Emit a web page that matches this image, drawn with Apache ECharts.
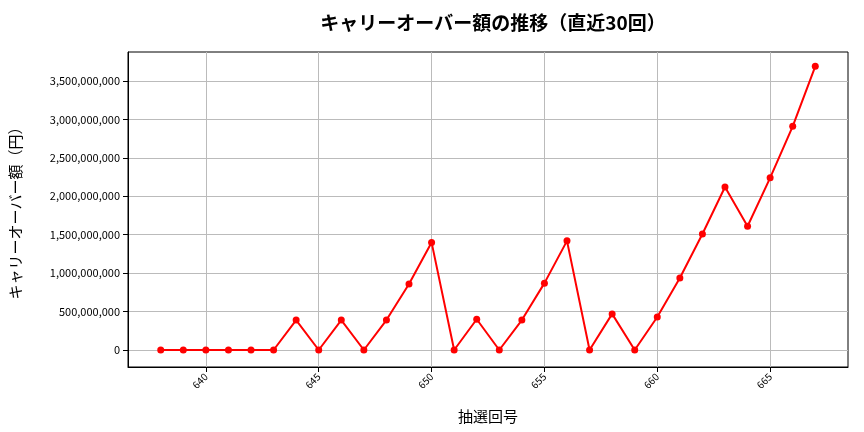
<!DOCTYPE html>
<html><head><meta charset="utf-8">
<script src="https://cdn.jsdelivr.net/npm/echarts@6/dist/echarts.min.js"></script>
<style>html,body{margin:0;padding:0;background:#fff}#c{width:864px;height:432px}</style>
</head><body><div id="c"></div>
<script>
const draws = [638,639,640,641,642,643,644,645,646,647,648,649,650,651,652,653,654,655,656,657,658,659,660,661,662,663,664,665,666,667];
const carryover = [0,0,0,0,0,0,390000000,0,390000000,0,390000000,860000000,1400000000,0,400000000,0,390000000,870000000,1420000000,0,470000000,0,430000000,936000000,1510000000,2120000000,1610000000,2240000000,2910000000,3690000000];
const xTicks = [640,645,650,655,660,665];
const yTicks = [0,500000000,1000000000,1500000000,2000000000,2500000000,3000000000,3500000000];
const font = '"Noto Sans CJK JP", "Noto Sans", sans-serif';
const chart = echarts.init(document.getElementById('c'));
chart.setOption({
  animation:false,
  title:{text:'キャリーオーバー額の推移（直近30回）',left:488,textAlign:'center',top:8,textStyle:{fontFamily:font,fontSize:19,fontWeight:'bold',color:'#000'}},
  grid:{left:128,right:16,top:52,bottom:65,show:true,borderColor:'#000',borderWidth:1},
  xAxis:{type:'value',min:636.55,max:668.45,name:'抽選回号',nameLocation:'middle',nameGap:42,
    nameTextStyle:{fontFamily:font,fontSize:15,color:'#000'},
    axisLine:{show:true,onZero:false,lineStyle:{color:'#000'}},
    axisTick:{show:true,customValues:xTicks,lineStyle:{color:'#000'}},
    axisLabel:{customValues:xTicks,rotate:45,fontSize:10,color:'#000',fontFamily:font},
    splitLine:{show:true,lineStyle:{color:'#bbb'}}},
  yAxis:{type:'value',min:-221000000,max:3877000000,name:'キャリーオーバー額（円）',nameLocation:'middle',nameGap:105,
    nameTextStyle:{fontFamily:font,fontSize:15,color:'#000'},
    axisLine:{show:true,lineStyle:{color:'#000'}},
    axisTick:{show:true,customValues:yTicks,lineStyle:{color:'#000'}},
    axisLabel:{customValues:yTicks,fontSize:11,color:'#000',fontFamily:font,formatter:v=>Math.round(v).toLocaleString('en-US')},
    splitLine:{show:true,lineStyle:{color:'#bbb'}}},
  series:[{type:'line',data:draws.map((d,i)=>[d,carryover[i]]),symbol:'circle',symbolSize:7,
    lineStyle:{color:'#f00',width:2},itemStyle:{color:'#f00'}}]
});
</script></body></html>
